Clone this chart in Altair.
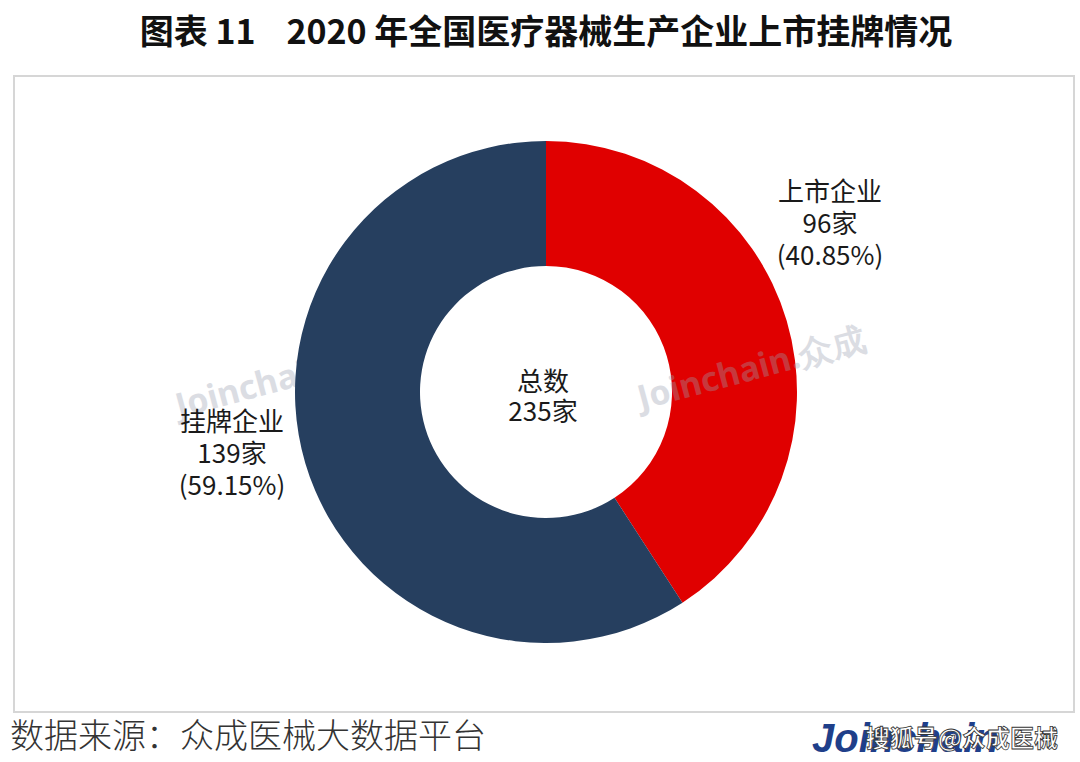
import altair as alt
import pandas as pd

# ---- data ----
categories = ["上市企业", "挂牌企业"]
counts = [96, 139]
colors = ["#E00000", "#263F5F"]
total_label = "总数"
title_text = "图表 11\u00a0\u00a0\u00a0 2020 年全国医疗器械生产企业上市挂牌情况"
source_text = "数据来源：众成医械大数据平台"

total = sum(counts)
pcts = [c / total * 100 for c in counts]
df = pd.DataFrame({
    "cat": categories,
    "count": counts,
    "order": list(range(len(categories))),
})

W, H = 1080, 762
CX, CY = 546, 392

color_scale = alt.Scale(domain=categories, range=colors)

donut = alt.Chart(df).mark_arc(outerRadius=251, innerRadius=126, stroke=None).encode(
    theta=alt.Theta("count:Q", stack=True),
    color=alt.Color("cat:N", scale=color_scale, legend=None),
    order=alt.Order("order:Q"),
    x=alt.value(CX),
    y=alt.value(CY),
)

box = alt.Chart(pd.DataFrame({"a": [0]})).mark_rect(
    fill="white", stroke="#D6D6D6", strokeWidth=2
).encode(x=alt.value(14), x2=alt.value(1074), y=alt.value(76), y2=alt.value(712))

def txt(text, x, y, size, **kw):
    return alt.Chart(pd.DataFrame({"t": [text]})).mark_text(
        fontSize=size, lineBreak="\n", **kw
    ).encode(text="t:N", x=alt.value(x), y=alt.value(y))

label_font = "Noto Sans CJK SC"
lbl_red = f"{categories[0]}\n{counts[0]}家\n({pcts[0]:.2f}%)"
lbl_navy = f"{categories[1]}\n{counts[1]}家\n({pcts[1]:.2f}%)"
lbl_total = f"{total_label}\n{total}家"

title = txt(title_text, 546, 34, 34, font="Noto Sans CJK SC", fontWeight="bold",
            color="#111111", align="center", baseline="middle")
lab1 = txt(lbl_red, 830, 193, 26, font=label_font, color="#1a1a1a", align="center",
           baseline="middle", lineHeight=32)
lab2 = txt(lbl_navy, 232, 423, 26, font=label_font, color="#1a1a1a", align="center",
           baseline="middle", lineHeight=32)
lab3 = txt(lbl_total, 543, 383, 26, font=label_font, color="#1a1a1a", align="center",
           baseline="middle", lineHeight=30)

wm_l = txt("Joinchain.众成", 290, 378, 34, font="Noto Sans", fontWeight="bold",
           color="#9AA0B0", opacity=0.35, align="center", baseline="middle", angle=345)
wm_r = txt("Joinchain.众成", 752, 370, 34, font="Noto Sans", fontWeight="bold",
           color="#9AA0B0", opacity=0.35, align="center", baseline="middle", angle=345)

src = txt(source_text, 10, 738, 34, font="Noto Sans CJK SC", fontWeight=300,
          color="#333333", align="left", baseline="middle")
logo = txt("Joinchain", 812, 740, 40, font="Liberation Sans", fontWeight="bold",
           fontStyle="italic", color="#1F3F8A", align="left", baseline="middle")
sohu = txt("搜狐号@众成医械", 1058, 740, 24, font="Noto Sans CJK SC", fontWeight="bold",
           color="white", stroke="#333333", strokeWidth=0.8, align="right", baseline="middle")

chart = alt.layer(box, title, wm_l, donut, wm_r, lab1, lab2, lab3, src, logo, sohu).properties(
    width=W, height=H, autosize=alt.AutoSizeParams(type="none"), padding=0
).configure_view(stroke=None)

chart.save("out.html", embed_options={"renderer": "svg", "actions": False})
